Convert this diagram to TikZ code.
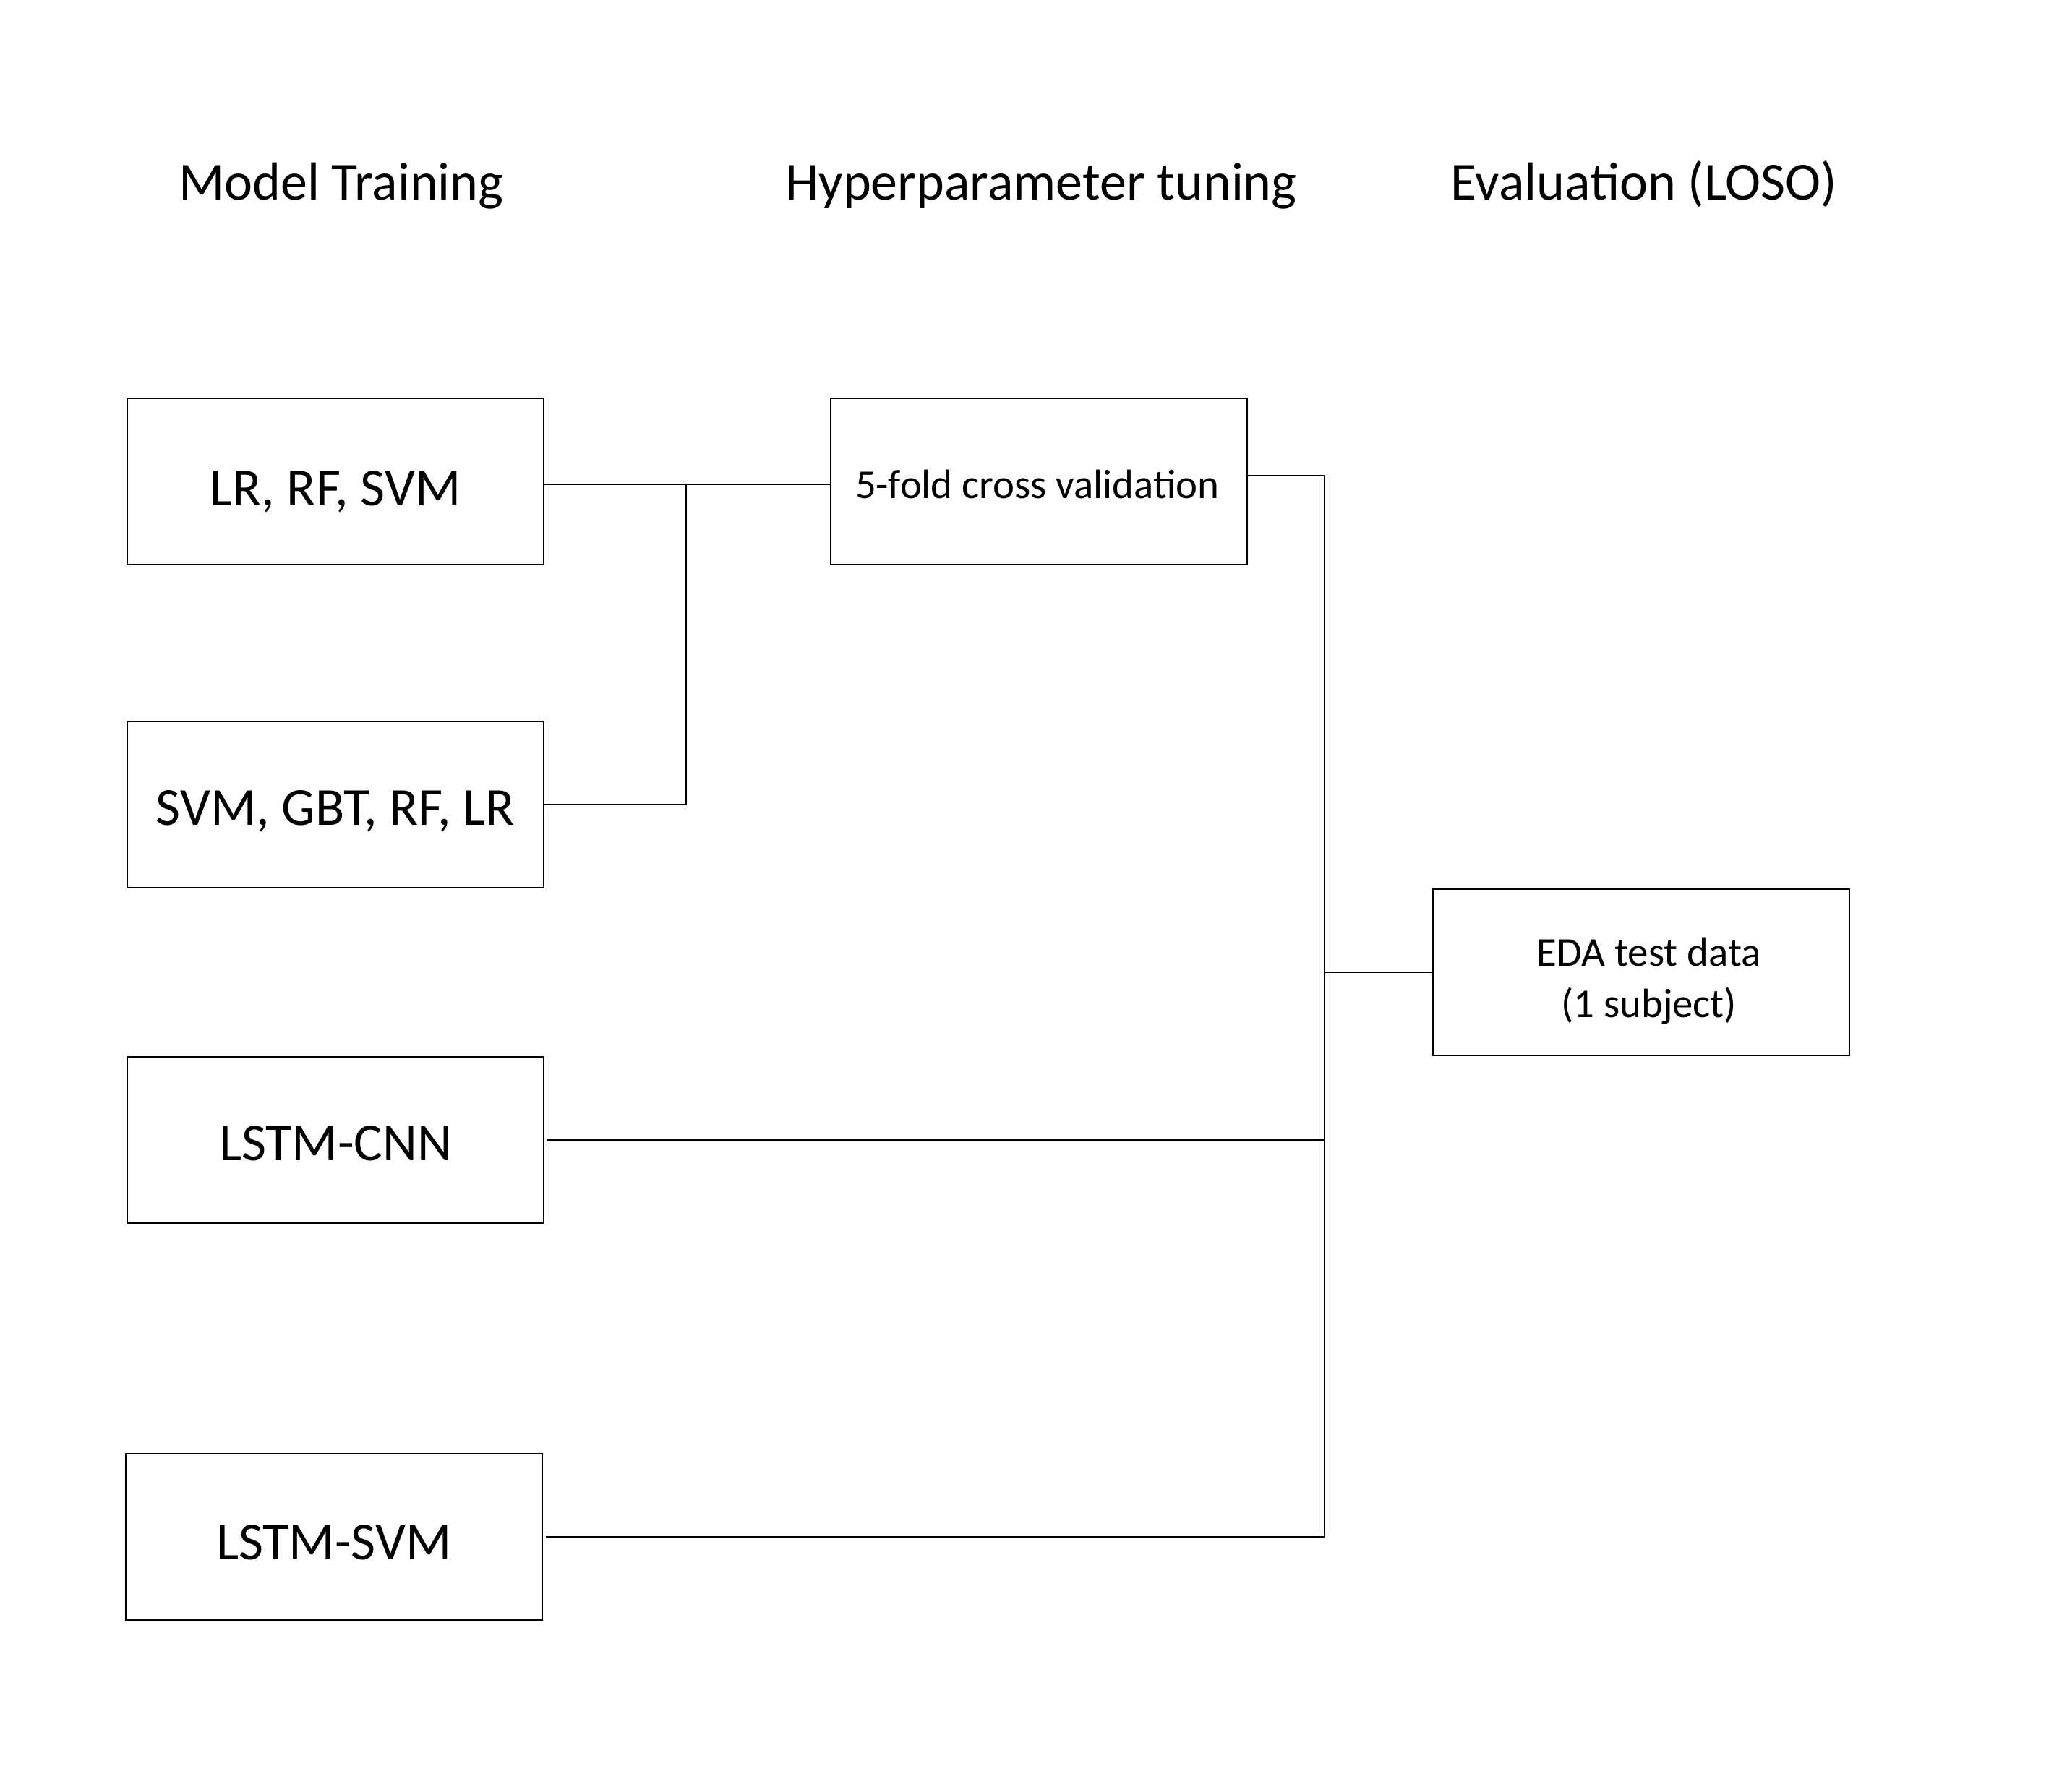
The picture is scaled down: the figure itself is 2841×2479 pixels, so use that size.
\documentclass[tikz,border=0pt]{standalone}
\usepackage{fontspec}
\setmainfont{Carlito}
\begin{document}
\begin{tikzpicture}[x=0.25pt,y=-0.25pt,
  box/.style={draw, line width=0.7pt, minimum width=144pt, minimum height=57.5pt, inner sep=0pt,
    text height=14.4pt, text depth=0pt, font=\fontsize{18.5}{22}\selectfont},
  smallbox/.style={draw, line width=0.7pt, minimum width=144pt, minimum height=57.5pt, inner sep=0pt,
    align=center, font=\fontsize{14.2}{17.7}\selectfont},
  smalltext/.style={inner sep=0pt, align=center, font=\fontsize{14.2}{17.7}\selectfont},
  title/.style={anchor=base, inner sep=0pt, font=\fontsize{18.5}{22}\selectfont},
  link/.style={line width=0.65pt}]
\useasboundingbox (0,0) rectangle (2841,2479);
% titles
\node[title] (t1) at (472,277) {Model Training};
\node[title] (t2) at (1440,277) {Hyperparameter tuning};
\node[title] (t3) at (2274,277) {Evaluation (LOSO)};
% boxes
\node[box, text height=17pt] (b1) at (464,666) {LR, RF, SVM};
\node[box] (b2) at (464,1113) {SVM, GBT, RF, LR};
\node[box] (b3) at (464,1577) {LSTM-CNN};
\node[box, text height=15.6pt] (b4) at (462,2126) {LSTM-SVM};
\node[smallbox] (cv) at (1437,666) {};
\node[smalltext, text height=11.8pt, text depth=0pt] (cvtext) at ([xshift=-0.5pt]cv.center) {5-fold cross validation};
\node[smallbox] (eda) at (2270,1345) {};
\node[smalltext] (edatext) at ([xshift=2.7pt,yshift=-3pt]eda.center) {EDA test data\\(1 subject)};
% connectors
\coordinate (j1) at (949,670);
\coordinate (bt) at (1832,658);
\coordinate (bb) at (1832,2126);
\draw[link] ([yshift=-1pt]b1.east) -- ([yshift=-1pt]cv.west);
\draw[link] (b2.east) -| (j1);
\draw[link] ([yshift=2pt]cv.east) -- (bt) -- (bb);
\draw[link] (eda.west) -- (eda.west -| bt);
\draw[link] ([xshift=1pt]b3.east) -- (b3.east -| bt);
\draw[link] ([xshift=1pt]b4.east) -- (b4.east -| bt);
\end{tikzpicture}
\end{document}
